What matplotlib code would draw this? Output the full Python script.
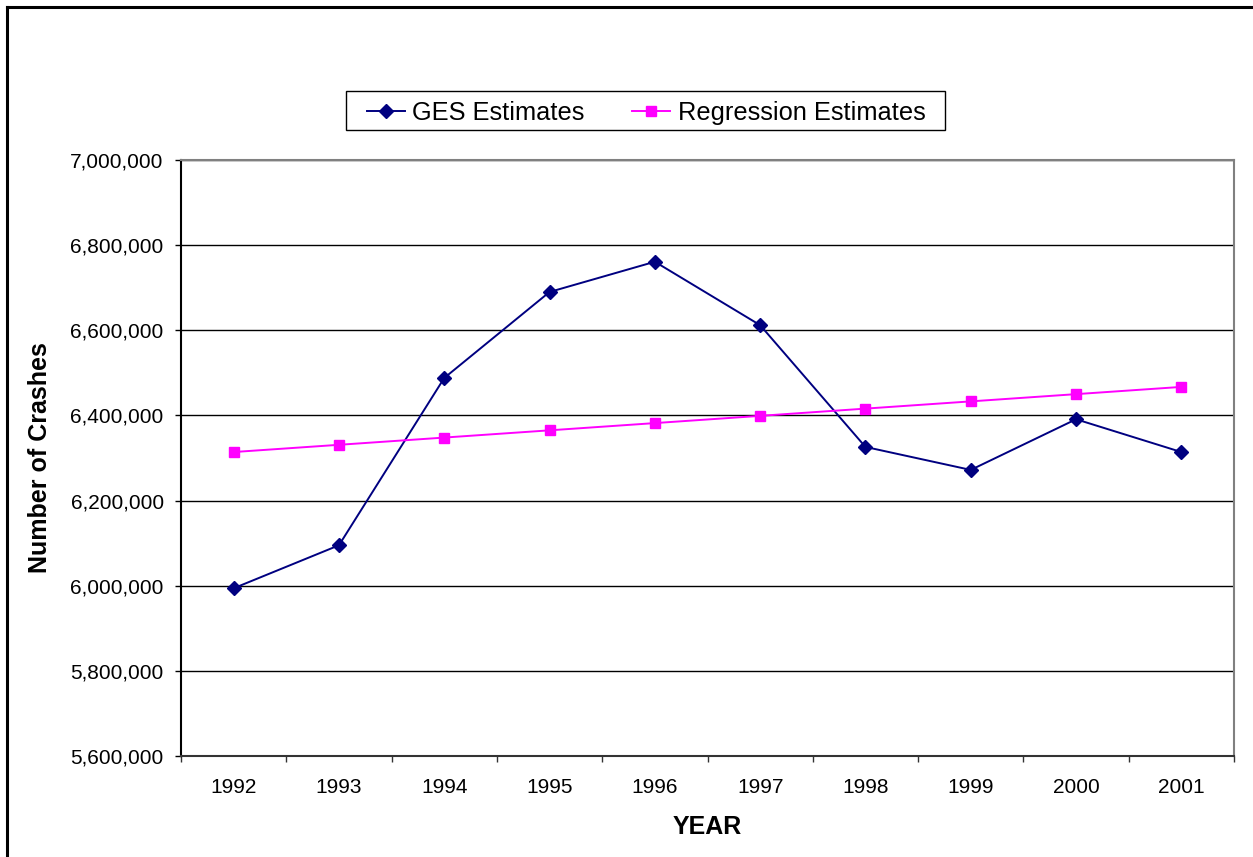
import numpy as np
import matplotlib.pyplot as plt
from matplotlib.lines import Line2D
from matplotlib.patches import Rectangle
from matplotlib.ticker import FuncFormatter, FixedLocator

plt.rcParams["font.family"] = ["Liberation Sans", "DejaVu Sans"]

years = ["1992", "1993", "1994", "1995", "1996", "1997", "1998", "1999", "2000", "2001"]
ges_estimates = [5994000, 6095000, 6488000, 6690000, 6761000, 6612000, 6326000, 6272000, 6391000, 6314000]
regression_estimates = [6314000, 6331000, 6348000, 6365000, 6382000, 6399000, 6416000, 6433000, 6450000, 6467000]

W, H = 1253, 857
fig = plt.figure(figsize=(W / 100, H / 100), dpi=100)

# outer chart border (only top and left visible)
fig.add_artist(Line2D([7 / W, 7 / W], [0, 1 - 7 / H], color="black", lw=2.2, transform=fig.transFigure))
fig.add_artist(Line2D([7 / W, 1], [1 - 7 / H, 1 - 7 / H], color="black", lw=2.2, transform=fig.transFigure))

left, right, top, bottom = 181, 1234, 160, 756
ax = fig.add_axes([left / W, 1 - bottom / H, (right - left) / W, (bottom - top) / H])

x = np.arange(len(years))
ax.plot(x, ges_estimates, color="#000080", lw=1.4, marker="D", markersize=7, label="GES Estimates", zorder=3)
ax.plot(x, regression_estimates, color="#FF00FF", lw=1.4, marker="s", markersize=6.5, label="Regression Estimates", zorder=3)

ax.set_xlim(-0.5, len(years) - 0.5)
ax.set_ylim(5600000, 7000000)
ax.set_yticks(np.arange(5600000, 7000001, 200000))
ax.yaxis.set_major_formatter(FuncFormatter(lambda v, p: f"{int(v):,}"))
ax.yaxis.grid(True, color="black", lw=1.0)
ax.set_axisbelow(True)

ax.xaxis.set_major_locator(FixedLocator(np.arange(-0.5, len(years), 1.0)))
ax.xaxis.set_major_formatter(FuncFormatter(lambda v, p: ""))
ax.xaxis.set_minor_locator(FixedLocator(x))
ax.set_xticklabels(years, minor=True)
ax.tick_params(axis="x", which="major", direction="out", length=4.5, width=1, color="#333333")
ax.tick_params(axis="x", which="minor", length=0, pad=16, labelsize=15)
ax.tick_params(axis="y", direction="out", length=4.5, width=1, pad=8, labelsize=15)

ax.spines["left"].set_color("black")
ax.spines["bottom"].set_color("#333333")
ax.spines["top"].set_color("#808080")
ax.spines["right"].set_color("#808080")
for s in ax.spines.values():
    s.set_linewidth(1.5)

fig.text((left + right) / 2 / W, 1 - 827 / H, "YEAR", ha="center", va="center", fontsize=18, fontweight="bold")
fig.text(40 / W, 1 - 458 / H, "Number of Crashes", ha="center", va="center", rotation=90, fontsize=18, fontweight="bold")

# legend box drawn by hand, entries without frame
fig.add_artist(Rectangle((346 / W, 1 - 130 / H), (945 - 346) / W, 39 / H, transform=fig.transFigure,
                         facecolor="white", edgecolor="black", lw=1.0, zorder=4))
leg = fig.legend(loc="center", bbox_to_anchor=(646 / W, 1 - 113 / H), ncol=2, fontsize=18.3,
                 frameon=False, handlelength=1.5, handletextpad=0.3,
                 columnspacing=1.85, borderpad=0.0, borderaxespad=0)
leg.set_zorder(5)

fig.savefig("out.png", dpi=100)
